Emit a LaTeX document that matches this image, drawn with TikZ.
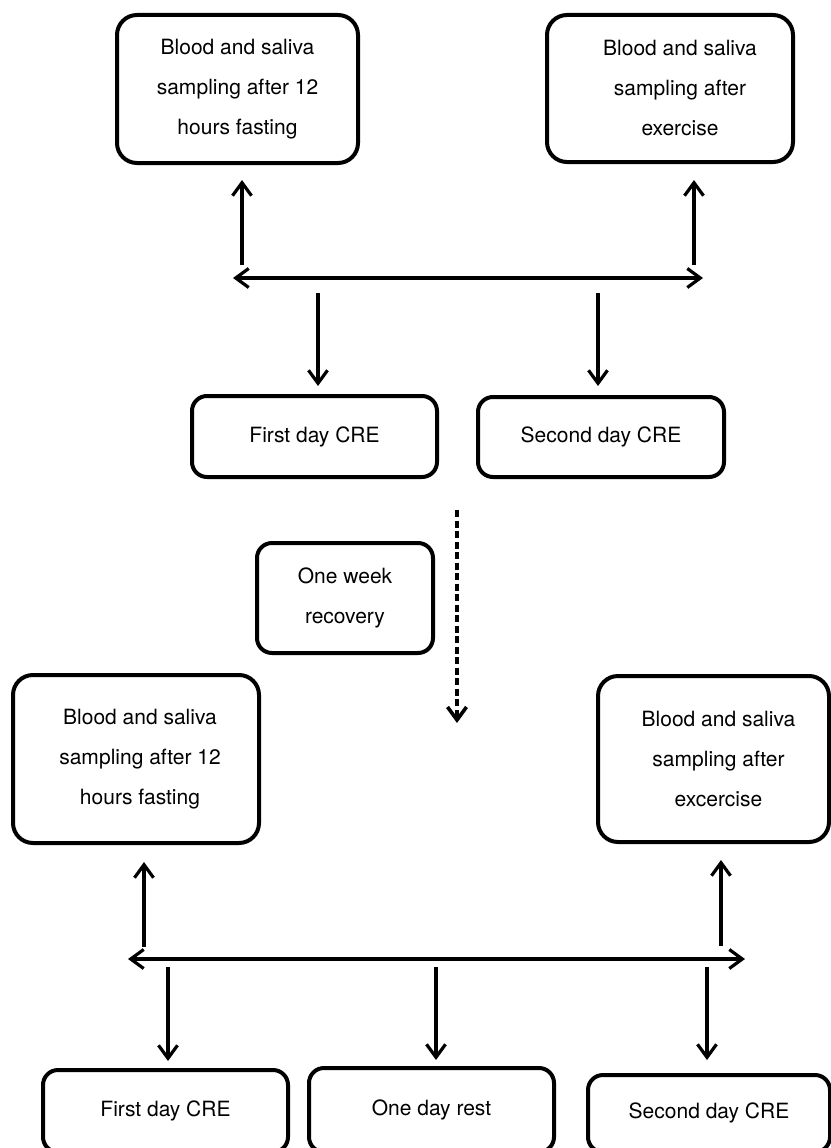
\documentclass[tikz,border=0pt]{standalone}
\usepackage{fontspec}
\setmainfont{TeX Gyre Heros}
\usetikzlibrary{arrows.meta}
\newlength{\du}
\setlength{\du}{1pt}

\begin{document}
\begin{tikzpicture}[
  roundbox/.style={draw, line width=4\du, rounded corners=15\du, align=center,
    inner sep=0pt, font=\fontsize{21}{40}\selectfont},
  bigbox/.style={roundbox, rounded corners=20\du},
  flow/.style={line width=3.2\du, -{Straight Barb[length=13pt,width=19pt]}},
  twoway/.style={line width=3.2\du,
    {Straight Barb[length=13pt,width=19pt]}-{Straight Barb[length=13pt,width=19pt]}},
  pause/.style={flow, line width=3.6\du, dash pattern=on 7pt off 3.5pt}]
\pgftransformxscale{1.000000}
\pgftransformyscale{-1.000000}
\definecolor{dialinecolor}{rgb}{0.000000, 0.000000, 0.000000}
\pgfsetstrokecolor{dialinecolor}
\useasboundingbox (0\du,0\du) rectangle (830\du,1148\du);
% first week
\node[bigbox, minimum width=241\du, minimum height=148\du] (fastA) at (237.5\du,89\du)
  {Blood and saliva\\sampling after 12\\hours fasting};
\node[bigbox, minimum width=246\du, minimum height=147\du] (exerA) at (670\du,88.5\du)
  {\hspace*{20\du}Blood and saliva\\\hspace*{20\du}sampling after\\\hspace*{20\du}exercise};
\node[roundbox, minimum width=245\du, minimum height=81\du] (creA1) at (314.5\du,436.5\du)
  {First day CRE};
\node[roundbox, minimum width=246\du, minimum height=80\du] (creA2) at (601\du,437\du)
  {Second day CRE};
\coordinate (upA1) at (242\du,265\du);
\coordinate (upA2) at (694\du,265\du);
\coordinate (leftA) at (233\du,278\du);
\coordinate (rightA) at (703\du,278\du);
\coordinate (downA1) at (318\du,293\du);
\coordinate (downA2) at (598\du,293\du);
\draw[flow, shorten >=15pt] (upA1) -- (upA1 |- fastA.south);
\draw[flow, shorten >=16pt] (upA2) -- (upA2 |- exerA.south);
\draw[twoway] (leftA) -- (rightA);
\draw[flow, shorten >=8pt] (downA1) -- (downA1 |- creA1.north);
\draw[flow, shorten >=9pt] (downA2) -- (downA2 |- creA2.north);
% recovery
\node[roundbox, minimum width=176\du, minimum height=110\du] (recov) at (345\du,598\du)
  {One week\\recovery};
\coordinate (pauseTop) at (457\du,510\du);
\coordinate (pauseEnd) at (457\du,723\du);
\draw[pause] (pauseTop) -- (pauseEnd);
% second week
\node[bigbox, minimum width=246\du, minimum height=168\du] (fastB) at (136\du,759\du)
  {\hspace*{8\du}Blood and saliva\\\hspace*{8\du}sampling after 12\\\hspace*{8\du}hours fasting};
\node[bigbox, minimum width=231\du, minimum height=166\du] (exerB) at (713.5\du,759\du)
  {\hspace*{10\du}Blood and saliva\\\hspace*{10\du}sampling after\\\hspace*{10\du}excercise};
\node[roundbox, minimum width=245\du, minimum height=82\du] (creB1) at (165.5\du,1111\du)
  {\raisebox{4\du}{First day CRE}};
\node[roundbox, minimum width=245\du, minimum height=84\du] (restB) at (431.5\du,1110\du)
  {\raisebox{3\du}{One day rest}};
\node[roundbox, minimum width=242\du, minimum height=77\du] (creB2) at (709\du,1113.5\du)
  {\raisebox{6\du}{Second day CRE}};
\coordinate (upB1) at (144\du,947\du);
\coordinate (upB2) at (721\du,946\du);
\coordinate (leftB) at (128\du,959\du);
\coordinate (rightB) at (745\du,959\du);
\coordinate (downB1) at (168\du,967\du);
\coordinate (downB2) at (436\du,967\du);
\coordinate (downB3) at (707\du,967\du);
\draw[flow, shorten >=17pt] (upB1) -- (upB1 |- fastB.south);
\draw[flow, shorten >=16pt] (upB2) -- (upB2 |- exerB.south);
\draw[twoway] (leftB) -- (rightB);
\draw[flow, shorten >=7pt] (downB1) -- (downB1 |- creB1.north);
\draw[flow, shorten >=6pt] (downB2) -- (downB2 |- restB.north);
\draw[flow, shorten >=13pt] (downB3) -- (downB3 |- creB2.north);
\end{tikzpicture}
\end{document}
